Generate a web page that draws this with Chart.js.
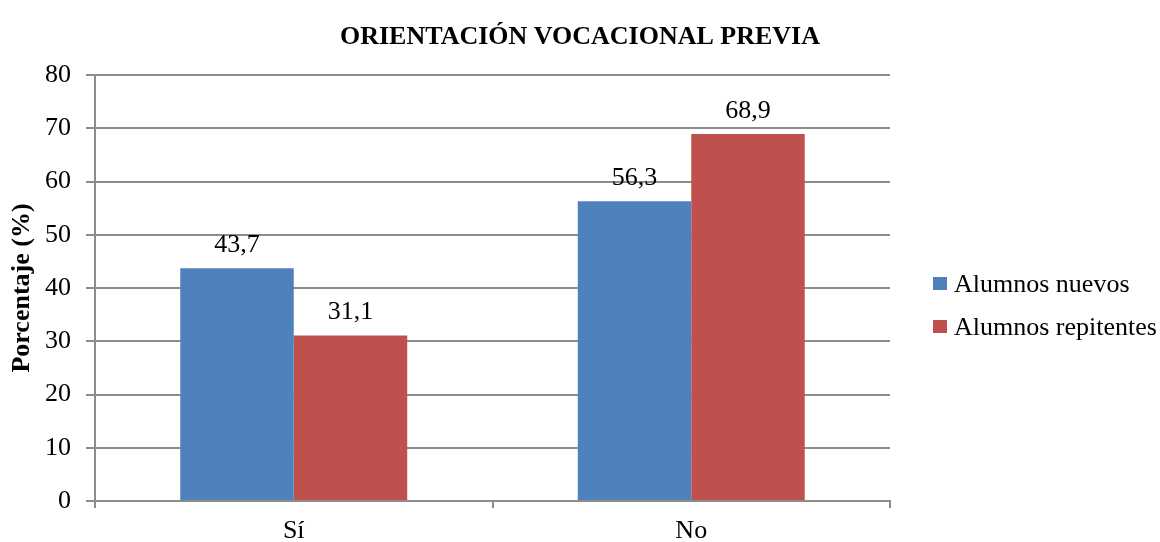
<!DOCTYPE html>
<html>
<head>
<meta charset="utf-8">
<script src="https://cdn.jsdelivr.net/npm/chart.js@4/dist/chart.umd.min.js"></script>
<style>
  html, body { margin: 0; padding: 0; background: #fff; }
  #wrap { position: relative; width: 1160px; height: 542px; }
  canvas { position: absolute; left: 0; top: 0; }
  #legend { position: absolute; left: 933px; top: 262px; font-family: "Liberation Serif", "Times New Roman", serif; font-size: 26px; color: #000; }
  .item { display: flex; align-items: center; height: 43px; white-space: nowrap; }
  .sw { width: 14px; height: 13px; margin-right: 7px; }
</style>
</head>
<body>
<div id="wrap">
  <canvas id="c" width="1160" height="542"></canvas>
  <div id="legend"></div>
</div>
<script>
const chartTitle = "ORIENTACIÓN VOCACIONAL PREVIA";
const yAxisTitle = "Porcentaje (%)";
const categories = ["Sí", "No"];
const seriesNames = ["Alumnos nuevos", "Alumnos repitentes"];
const alumnosNuevos = [43.7, 56.3];
const alumnosRepitentes = [31.1, 68.9];
const seriesColors = ["#4F81BD", "#C0504D"];
const yTicks = [0, 10, 20, 30, 40, 50, 60, 70, 80];

const FONT = '"Liberation Serif", "Times New Roman", serif';
const GRID = '#8c8c8c';

const labelPlugin = {
  id: 'valueLabels',
  afterDatasetsDraw(chart) {
    const ctx = chart.ctx;
    ctx.save();
    ctx.font = '26px ' + FONT;
    ctx.fillStyle = '#000';
    ctx.textAlign = 'center';
    ctx.textBaseline = 'alphabetic';
    chart.data.datasets.forEach((ds, i) => {
      chart.getDatasetMeta(i).data.forEach((bar, j) => {
        const txt = ds.data[j].toFixed(1).replace('.', ',');
        ctx.fillText(txt, bar.x, bar.y - 16);
      });
    });
    ctx.restore();
  }
};

const titlePlugin = {
  id: 'centerTitle',
  afterDraw(chart) {
    const ctx = chart.ctx;
    ctx.save();
    ctx.font = 'bold 26px ' + FONT;
    ctx.fillStyle = '#000';
    ctx.textAlign = 'center';
    ctx.textBaseline = 'alphabetic';
    ctx.fillText(chartTitle, chart.width / 2, 44);
    ctx.restore();
  }
};

const datasets = [alumnosNuevos, alumnosRepitentes].map((d, i) => ({
  label: seriesNames[i],
  data: d,
  backgroundColor: seriesColors[i],
  borderWidth: 0,
  barPercentage: 1,
  categoryPercentage: 0.571
}));

new Chart(document.getElementById('c'), {
  type: 'bar',
  data: { labels: categories, datasets },
  plugins: [labelPlugin, titlePlugin],
  options: {
    responsive: false,
    animation: false,
    devicePixelRatio: 1,
    layout: { padding: { left: 0, right: 270, top: 75, bottom: 0 } },
    plugins: {
      legend: { display: false },
      tooltip: { enabled: false },
      title: { display: false }
    },
    scales: {
      x: {
        grid: { display: true, drawOnChartArea: false, drawTicks: true, tickLength: 7, color: GRID, lineWidth: 2, offset: true },
        border: { display: true, color: GRID, width: 2 },
        ticks: { color: '#000', font: { family: FONT, size: 26 }, padding: 8 },
        afterFit(s) { s.height = 41; }
      },
      y: {
        min: 0, max: 80,
        afterBuildTicks(s) { s.ticks = yTicks.map(v => ({ value: v })); },
        grid: { color: GRID, tickLength: 9, lineWidth: 2 },
        border: { display: true, color: GRID, width: 2 },
        ticks: { color: '#000', font: { family: FONT, size: 26 }, padding: 15 },
        title: { display: true, text: yAxisTitle, color: '#000', font: { family: FONT, size: 26, weight: 'bold' }, padding: { top: 7, bottom: 4 } },
        afterFit(s) { s.width = 95; }
      }
    }
  }
});

const leg = document.getElementById('legend');
seriesNames.forEach((n, i) => {
  const it = document.createElement('div');
  it.className = 'item';
  const sw = document.createElement('span');
  sw.className = 'sw';
  sw.style.background = seriesColors[i];
  const t = document.createElement('span');
  t.textContent = n;
  it.appendChild(sw); it.appendChild(t);
  leg.appendChild(it);
});
</script>
</body>
</html>
